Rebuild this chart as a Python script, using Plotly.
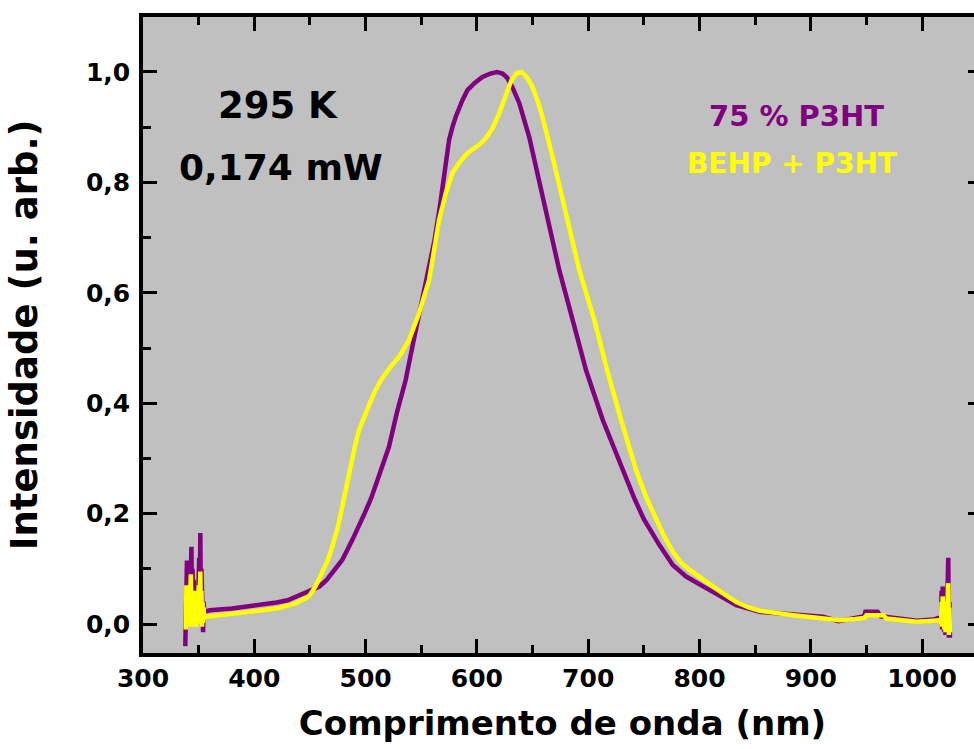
import plotly.graph_objects as go

# ---- data: 75 % P3HT (purple) ----
p3ht_wl = [338.0, 338.5, 339.0, 339.5, 340.0, 340.5, 341.0, 341.5, 342.0, 342.5, 343.0, 343.5,
           344.0, 344.5, 345.0, 345.5, 346.0, 346.5, 347.0, 347.5, 348.0, 348.5, 349.0, 349.5,
           350.0, 350.5, 351.0, 351.5, 352.0, 352.5, 353.0, 353.5, 354.0, 354.5, 355.0,
           360, 370, 380, 390, 400, 410, 420, 430, 440, 450, 458.5, 465, 470, 479, 488, 494,
           499, 505, 511, 516, 521, 528, 536, 542, 548, 554, 562, 567, 572, 575, 578, 581,
           587, 591.5, 598, 605, 612, 618, 623, 627, 632, 638, 647, 656, 663.5, 674, 686, 698,
           713, 731, 742, 750, 757, 764, 776, 788, 806, 820, 833, 854, 878, 895, 911, 925, 940,
           948, 949, 960, 963, 980, 995, 1010, 1015, 1016, 1017, 1017.5, 1018, 1018.5, 1019,
           1019.5, 1020, 1020.5, 1021, 1021.5, 1022, 1022.5, 1023, 1023.5, 1024, 1024.5, 1025]
p3ht_int = [-0.04, 0.05, 0.02, 0.115, 0.03, 0.08, 0.01, 0.06, 0.005, 0.09, 0.02, 0.14,
            0.03, 0.10, 0.01, 0.08, 0.02, 0.07, 0.0, 0.06, 0.01, 0.07, 0.005, 0.09,
            0.02, 0.12, 0.03, 0.165, 0.04, 0.10, -0.01, 0.05, -0.015, 0.04, 0.022,
            0.025, 0.026, 0.028, 0.031, 0.033, 0.035, 0.039, 0.043, 0.052, 0.06, 0.068, 0.08,
            0.092, 0.116, 0.152, 0.176, 0.2, 0.228, 0.261, 0.29, 0.321, 0.382, 0.442, 0.502,
            0.563, 0.623, 0.696, 0.76, 0.835, 0.877, 0.90, 0.919, 0.949, 0.967, 0.98, 0.991,
            0.997, 1.0, 0.997, 0.99, 0.972, 0.944, 0.882, 0.80, 0.732, 0.641, 0.551, 0.46,
            0.37, 0.279, 0.225, 0.19, 0.165, 0.143, 0.107, 0.086, 0.065, 0.048, 0.034, 0.022,
            0.019, 0.016, 0.013, 0.005, 0.011, 0.014, 0.022, 0.022, 0.014, 0.01, 0.006, 0.008,
            0.012, 0.012, 0.0, 0.06, -0.01, 0.068, 0.0, 0.04, -0.015, 0.05, -0.02, 0.03, -0.01,
            0.08, 0.0, 0.12, -0.025, 0.04, -0.025]

# ---- data: BEHP + P3HT (yellow) ----
behp_wl = [338.5, 339.0, 339.5, 340.0, 340.5, 341.0, 341.5, 342.0, 342.5, 343.0, 343.5,
           344.0, 344.5, 345.0, 345.5, 346.0, 346.5, 347.0, 347.5, 348.0, 348.5, 349.0, 349.5,
           350.0, 350.5, 351.0, 351.5, 352.0, 352.5, 353.0, 353.5, 354.0, 354.5, 355.0, 356.0,
           365, 377, 390, 407, 420, 437, 443, 449, 455, 461, 466, 470, 475, 479, 485, 490,
           494, 499, 503, 508, 514, 522, 530, 539, 548, 557, 566, 572, 578, 584, 590, 596,
           602, 608, 614, 620, 626, 631, 636, 640, 645, 650, 655, 659, 668, 677, 685, 692,
           705.5, 717, 729.5, 743, 752, 761, 768, 776, 783, 791, 800, 809, 820, 833, 844, 854,
           870, 884, 897, 914, 926, 940, 948, 950, 965, 968, 980, 995, 1010, 1015, 1016,
           1017, 1017.5, 1018, 1018.5, 1019, 1019.5, 1020, 1020.5, 1021, 1021.5, 1022, 1022.5,
           1023, 1023.5, 1024, 1024.5, 1025]
behp_int = [-0.01, 0.07, 0.0, 0.06, -0.005, 0.05, 0.0, 0.08, 0.005, 0.09, 0.01,
            0.06, -0.005, 0.05, 0.0, 0.06, 0.005, 0.04, -0.005, 0.05, 0.0, 0.06, 0.005,
            0.07, 0.0, 0.08, 0.095, 0.0, 0.06, -0.005, 0.04, 0.002, 0.03, 0.01, 0.013,
            0.015, 0.018, 0.021, 0.024, 0.028, 0.0375, 0.043, 0.05, 0.068, 0.092, 0.115, 0.14,
            0.175, 0.2125, 0.273, 0.318, 0.351, 0.378, 0.396, 0.42, 0.442, 0.465, 0.484, 0.514,
            0.563, 0.623, 0.732, 0.78, 0.817, 0.835, 0.85, 0.86, 0.868, 0.88, 0.898, 0.925,
            0.96, 0.985, 0.998, 1.0, 0.99, 0.973, 0.945, 0.918, 0.846, 0.768, 0.696, 0.641,
            0.551, 0.46, 0.37, 0.279, 0.23, 0.188, 0.16, 0.131, 0.112, 0.098, 0.085, 0.074,
            0.057, 0.04, 0.03, 0.024, 0.019, 0.016, 0.013, 0.010, 0.007, 0.009, 0.011, 0.016,
            0.016, 0.010, 0.008, 0.004, 0.006, 0.007, 0.007, 0.0, 0.04, -0.005, 0.05, 0.0,
            0.03, -0.01, 0.04, -0.015, 0.02, -0.005, 0.06, 0.0, 0.074, -0.02, 0.03, -0.015]

y_ticks = [0.0, 0.2, 0.4, 0.6, 0.8, 1.0]
x_ticks = [300, 400, 500, 600, 700, 800, 900, 1000]

PURPLE = "#800080"
YELLOW = "#FFFF00"
FONT = "DejaVu Sans"

fig = go.Figure()
fig.add_trace(go.Scatter(x=p3ht_wl, y=p3ht_int, mode="lines", name="75 % P3HT",
                         line=dict(color=PURPLE, width=4.5)))
fig.add_trace(go.Scatter(x=behp_wl, y=behp_int, mode="lines", name="BEHP + P3HT",
                         line=dict(color=YELLOW, width=4.5)))

axis_common = dict(showline=True, linecolor="black", linewidth=3.5, mirror="allticks",
                   ticks="inside", ticklen=14, tickwidth=3, tickcolor="black",
                   showgrid=False, zeroline=False,
                   tickfont=dict(family=FONT, size=25, color="black", weight="bold"))

fig.update_xaxes(range=[300, 1053.8], tickvals=x_ticks,
                 minor=dict(ticks="inside", ticklen=8, tickwidth=3, tickcolor="black", dtick=50),
                 title=dict(text="<b>Comprimento de onda (nm)</b>",
                            font=dict(family=FONT, size=34, color="black"), standoff=20),
                 **axis_common)
fig.update_yaxes(range=[-0.0525, 1.0996], tickvals=y_ticks, tickformat=".1f",
                 ticklabelstandoff=4,
                 minor=dict(ticks="inside", ticklen=8, tickwidth=3, tickcolor="black", dtick=0.1),
                 title=dict(text="<b>Intensidade (u. arb.)</b>",
                            font=dict(family=FONT, size=37, color="black"), standoff=38),
                 **axis_common)

annots = [
    dict(x=421, y=0.94, text="<b>295 K</b>", font=dict(family=FONT, size=37, color="black")),
    dict(x=424, y=0.827, text="<b>0,174 mW</b>", font=dict(family=FONT, size=36, color="black")),
    dict(x=887, y=0.92, text="<b>75 % P3HT</b>", font=dict(family=FONT, size=29, color=PURPLE)),
    dict(x=883, y=0.835, text="<b>BEHP + P3HT</b>", font=dict(family=FONT, size=28, color=YELLOW)),
]
for a in annots:
    fig.add_annotation(xref="x", yref="y", showarrow=False, **a)

fig.update_layout(width=982, height=749, separators=",.",
                  margin=dict(l=143, r=0, t=17, b=96, autoexpand=False),
                  plot_bgcolor="#C0C0C0", paper_bgcolor="white", showlegend=False)

page_css = ("document.body.style.margin='0';"
            "document.body.style.overflow='hidden';"
            "document.documentElement.style.overflow='hidden';")
fig.write_html("out.html", post_script=page_css, config={"displayModeBar": False})
